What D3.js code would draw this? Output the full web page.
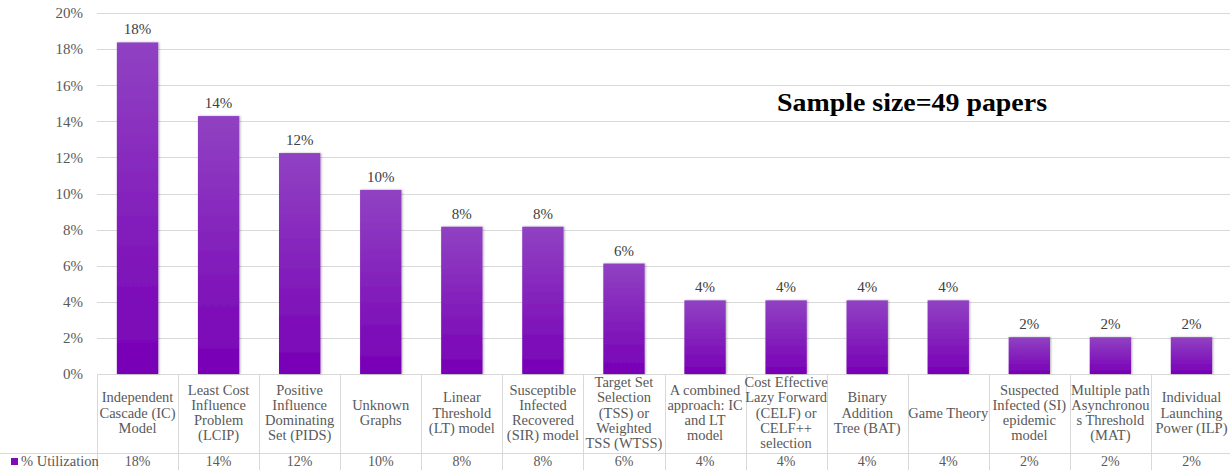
<!DOCTYPE html>
<html>
<head>
<meta charset="utf-8">
<script src="https://cdn.jsdelivr.net/npm/d3@7"></script>
<style>
  body { margin: 0; background: #fff; }
  svg text { font-family: 'Liberation Serif', serif; }
</style>
</head>
<body>
<div id="chart"></div>
<script>
// categories, split into the lines used in the table row
const categories = [
    ['Independent', 'Cascade (IC)', 'Model'],
    ['Least Cost', 'Influence', 'Problem', '(LCIP)'],
    ['Positive', 'Influence', 'Dominating', 'Set (PIDS)'],
    ['Unknown', 'Graphs'],
    ['Linear', 'Threshold', '(LT) model'],
    ['Susceptible', 'Infected', 'Recovered', '(SIR) model'],
    ['Target Set', 'Selection', '(TSS) or', 'Weighted', 'TSS (WTSS)'],
    ['A combined', 'approach: IC', 'and LT', 'model'],
    ['Cost Effective', 'Lazy Forward', '(CELF) or', 'CELF++', 'selection'],
    ['Binary', 'Addition', 'Tree (BAT)'],
    ['Game Theory'],
    ['Suspected', 'Infected (SI)', 'epidemic', 'model'],
    ['Multiple path', 'Asynchronou', 's Threshold', '(MAT)'],
    ['Individual', 'Launching', 'Power (ILP)']
];
// share of 49 papers
const values = [18.37, 14.29, 12.24, 10.20, 8.16, 8.16, 6.12, 4.08, 4.08, 4.08, 4.08, 2.04, 2.04, 2.04];
const yTicks = [0, 2, 4, 6, 8, 10, 12, 14, 16, 18, 20];
const seriesName = '% Utilization';
const note = 'Sample size=49 papers';

const W = 1230, H = 470;
const margin = { top: 13, right: -2, bottom: 96, left: 97 };
const w = W - margin.left - margin.right;
const h = H - margin.top - margin.bottom;
const font = "'Liberation Serif', serif";

const svg = d3.select('#chart')
    .append('svg')
    .attr('width', W)
    .attr('height', H)
    .attr('font-family', font);

const defs = svg.append('defs');
const grad = defs.append('linearGradient')
    .attr('id', 'barGrad')
    .attr('x1', 0).attr('y1', 0).attr('x2', 0).attr('y2', 1);
grad.append('stop').attr('offset', '0%').attr('stop-color', '#9042c2');
grad.append('stop').attr('offset', '100%').attr('stop-color', '#7800b6');

const shadow = defs.append('filter').attr('id', 'shadow')
    .attr('x', '-20%').attr('y', '-5%').attr('width', '140%').attr('height', '110%');
shadow.append('feDropShadow')
    .attr('dx', 1).attr('dy', 0).attr('stdDeviation', 1.2)
    .attr('flood-color', '#000').attr('flood-opacity', 0.3);

const g = svg.append('g')
    .attr('transform', `translate(${margin.left}, ${margin.top})`);

const idx = d3.range(categories.length);
const xScale = d3.scaleBand()
    .domain(idx)
    .range([0, w])
    .paddingInner(0.49)
    .paddingOuter(0.245);

const yScale = d3.scaleLinear()
    .domain([0, 20])
    .range([h, 0]);

// gridlines
g.append('g')
    .selectAll('line')
    .data(yTicks)
    .enter()
    .append('line')
    .attr('x1', 0)
    .attr('x2', W - margin.left)
    .attr('y1', (d) => Math.round(yScale(d)) + 0.5)
    .attr('y2', (d) => Math.round(yScale(d)) + 0.5)
    .attr('stroke', '#d9d9d9')
    .attr('stroke-width', 1);

// y axis labels
const yAxis = d3.axisLeft(yScale)
    .tickValues(yTicks)
    .tickFormat((d) => d + '%')
    .tickSize(0)
    .tickPadding(14);
g.append('g')
    .call(yAxis)
    .attr('font-family', font)
    .call((sel) => sel.select('.domain').remove())
    .selectAll('text')
    .attr('font-size', 15)
    .attr('fill', '#595959');

// bars
g.selectAll('.column')
    .data(values)
    .enter()
    .append('rect')
    .classed('column', true)
    .attr('x', (d, i) => xScale(i))
    .attr('y', (d) => yScale(d))
    .attr('width', xScale.bandwidth())
    .attr('height', (d) => h - yScale(d))
    .attr('fill', 'url(#barGrad)')
    .attr('filter', 'url(#shadow)');

// value labels
g.selectAll('.vlabel')
    .data(values)
    .enter()
    .append('text')
    .classed('vlabel', true)
    .attr('x', (d, i) => xScale(i) + xScale.bandwidth() / 2)
    .attr('y', (d) => yScale(d) - 8)
    .attr('text-anchor', 'middle')
    .attr('font-size', 15)
    .attr('fill', '#404040')
    .text((d) => Math.round(d) + '%');

// note
g.append('text')
    .attr('x', 680)
    .attr('y', 98)
    .attr('font-size', 25)
    .attr('font-weight', 'bold')
    .attr('fill', '#000')
    .attr('textLength', 270)
    .attr('lengthAdjust', 'spacingAndGlyphs')
    .text(note);

// data table
const step = xScale.step();
const table = g.append('g').attr('transform', `translate(0, ${h})`);
const rowY = 79;
const bottom = H - margin.top - h;

idx.concat([categories.length]).forEach((i) => {
    const x = Math.round(i * step) + 0.5;
    table.append('line')
        .attr('x1', x).attr('x2', x)
        .attr('y1', 0).attr('y2', bottom)
        .attr('stroke', '#d9d9d9');
});
table.append('line')
    .attr('x1', -margin.left).attr('x2', W)
    .attr('y1', rowY + 0.5).attr('y2', rowY + 0.5)
    .attr('stroke', '#d9d9d9');

const cells = table.selectAll('.cat')
    .data(categories)
    .enter()
    .append('text')
    .classed('cat', true)
    .attr('text-anchor', 'middle')
    .attr('font-size', 14.5)
    .attr('fill', '#595959');

const lineH = 15.2;
cells.each(function (lines, i) {
    const cx = i * step + step / 2;
    const y0 = rowY / 2 - (lines.length - 1) * lineH / 2 + 4;
    d3.select(this).selectAll('tspan')
        .data(lines)
        .enter()
        .append('tspan')
        .attr('x', cx)
        .attr('y', (d, j) => y0 + j * lineH)
        .text((d) => d);
});

table.selectAll('.tval')
    .data(values)
    .enter()
    .append('text')
    .classed('tval', true)
    .attr('x', (d, i) => i * step + step / 2)
    .attr('y', rowY + 13)
    .attr('text-anchor', 'middle')
    .attr('font-size', 14)
    .attr('fill', '#595959')
    .text((d) => Math.round(d) + '%');

// legend key in the table
table.append('rect')
    .attr('x', 11 - margin.left)
    .attr('y', rowY + 5)
    .attr('width', 7)
    .attr('height', 7)
    .attr('fill', '#7b0db8');
table.append('text')
    .attr('x', 21 - margin.left)
    .attr('y', rowY + 13)
    .attr('font-size', 14.5)
    .attr('fill', '#595959')
    .text(seriesName);
</script>
</body>
</html>
